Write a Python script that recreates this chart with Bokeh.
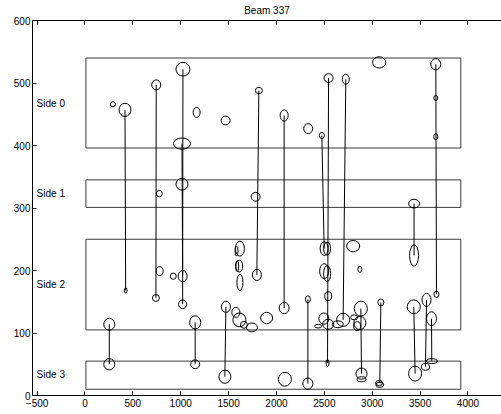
from bokeh.plotting import figure
from bokeh.models import LinearAxis, FixedTicker, Range1d
from bokeh.embed import file_html
from bokeh.resources import INLINE
from bokeh.core.properties import value

# ---- data ----
title_text = "Beam 337"
side_names = ["Side 0", "Side 1", "Side 2", "Side 3"]
side_label_y = [468, 323, 178, 33]
side_left = [10, 10, 10, 10]
side_right = [3925, 3925, 3925, 3925]
side_bottom = [396, 301, 105, 10]
side_top = [540, 345, 250, 55]

x_ticks = [-500, 0, 500, 1000, 1500, 2000, 2500, 3000, 3500, 4000]
x_tick_labels = ["\u2212500", "0", "500", "1000", "1500", "2000", "2500", "3000", "3500", "4000"]
y_ticks = [0, 100, 200, 300, 400, 500, 600]

# ellipses: centre x, centre y, width, height (data units)
ell_x = [292, 418, 744, 1023, 1013, 1166, 1469, 1816, 2080, 2331, 2474, 2544, 2724, 3072, 3664, 3664, 3664,
         1013, 776, 1782, 3437,
         425, 741, 1020, 1020, 780, 922, 1618, 1583, 1611, 1590, 1618, 1795, 2080, 1472, 1576, 1613, 1660,
         1743, 1897, 2328, 2498, 2529, 2498, 2529, 2540, 2495, 2435, 2540, 2641, 2696, 2811, 2881, 2871,
         2842, 2871, 2801, 3090, 3437, 3434, 3567, 3619, 3671, 254, 1151,
         254, 1151, 1461, 2088, 2328, 2533, 2888, 2888, 3072, 3079, 3448, 3556, 3622]
ell_y = [466, 457, 497, 522, 403, 453, 440, 488, 448, 427, 416, 508, 506, 533, 530, 476, 414,
         338, 323, 318, 307,
         168, 156, 191, 146, 199, 191, 235, 231, 207, 207, 181, 193, 140, 142, 133, 121, 113,
         109, 124, 154, 235, 235, 199, 195, 159, 123, 111, 114, 114, 121, 125, 139, 116,
         111, 202, 239, 149, 224, 142, 153, 123, 162, 114, 117,
         50, 50, 30, 26, 19, 52, 35, 26, 20, 17, 35, 46, 55]
ell_w = [52, 125, 94, 146, 177, 73, 94, 73, 84, 94, 52, 94, 73, 136, 104, 42, 42,
         125, 63, 94, 115,
         31, 73, 94, 84, 73, 63, 94, 31, 73, 31, 63, 94, 104, 94, 84, 136, 73,
         115, 125, 52, 84, 73, 94, 73, 73, 104, 73, 115, 115, 136, 73, 136, 125,
         73, 42, 136, 63, 94, 136, 94, 104, 52, 115, 115,
         115, 94, 125, 136, 104, 31, 115, 94, 73, 84, 136, 84, 115]
ell_h = [8, 21, 16, 22, 18, 16, 14, 10, 18, 16, 10, 14, 16, 18, 18, 8, 10,
         19, 10, 14, 14,
         8, 11, 18, 14, 14, 10, 24, 16, 19, 18, 26, 18, 18, 18, 16, 22, 11,
         14, 18, 11, 22, 21, 24, 26, 14, 18, 6, 16, 11, 21, 8, 24, 21,
         14, 10, 18, 11, 34, 22, 21, 22, 10, 19, 21,
         18, 14, 21, 22, 18, 11, 18, 8, 8, 8, 24, 11, 8]

# connecting tracks
trk_x0 = [418, 744, 1023, 1013, 1816, 2080, 2474, 2544, 2724, 3664, 3437, 254, 1151, 1472, 2328, 2881, 3090, 3434, 3567, 3619]
trk_y0 = [457, 497, 522, 403, 488, 448, 416, 508, 506, 530, 307, 114, 117, 142, 154, 139, 149, 142, 153, 123]
trk_x1 = [425, 741, 1020, 1020, 1795, 2080, 2498, 2533, 2696, 3671, 3437, 254, 1151, 1461, 2328, 2888, 3079, 3448, 3556, 3622]
trk_y1 = [168, 156, 146, 191, 193, 140, 235, 52, 121, 162, 224, 50, 50, 30, 19, 35, 20, 35, 46, 55]

FONT = "Liberation Sans"

p = figure(frame_width=469, frame_height=375, output_backend="svg", toolbar_location=None,
           x_range=Range1d(-548, 4350), y_range=Range1d(0, 600),
           min_border_left=32, min_border_right=0, min_border_top=20, min_border_bottom=19,
           x_axis_location=None, y_axis_location=None)
p.background_fill_color = "white"
p.border_fill_color = "white"
p.outline_line_color = None
p.xgrid.visible = False
p.ygrid.visible = False

def style_axis(ax):
    ax.axis_line_color = "black"
    ax.axis_line_width = 1
    ax.major_tick_in = 4
    ax.major_tick_out = 0
    ax.minor_tick_line_color = None
    ax.major_tick_line_color = "black"
    ax.major_label_text_font = FONT
    ax.major_label_text_color = "black"
    ax.major_label_text_font_size = "10px"

bx = LinearAxis(ticker=FixedTicker(ticks=x_ticks))
bx.major_label_overrides = {t: l for t, l in zip(x_ticks, x_tick_labels)}
bx.major_label_standoff = 3
style_axis(bx)
p.add_layout(bx, "below")

# top frame edge with inward ticks; the title is carried as its axis label
tx = LinearAxis(ticker=FixedTicker(ticks=x_ticks))
style_axis(tx)
tx.major_label_text_font_size = "1px"
tx.major_label_text_color = None
tx.major_label_standoff = 0
tx.axis_label = title_text
tx.axis_label_text_font = FONT
tx.axis_label_text_font_size = "10px"
tx.axis_label_text_font_style = "normal"
tx.axis_label_text_color = "black"
tx.axis_label_standoff = 5
p.add_layout(tx, "above")

ly = LinearAxis(ticker=FixedTicker(ticks=y_ticks))
ly.major_label_standoff = 2
style_axis(ly)
p.add_layout(ly, "left")

# side boxes
p.quad(left=side_left, right=side_right, bottom=side_bottom, top=side_top,
       fill_color=None, line_color="#3a3a3a", line_width=1)

p.text(x=[-505] * len(side_names), y=side_label_y, text=side_names,
       text_font=value(FONT), text_font_size="10px", text_align="left",
       text_baseline="middle", text_color="black")

# tracks
p.segment(x0=trk_x0, y0=trk_y0, x1=trk_x1, y1=trk_y1, line_color="black", line_width=1)

# hits
p.ellipse(x=ell_x, y=ell_y, width=ell_w, height=ell_h, fill_color=None,
          line_color="black", line_width=1)

open("out.html", "w").write(file_html(p, INLINE))
